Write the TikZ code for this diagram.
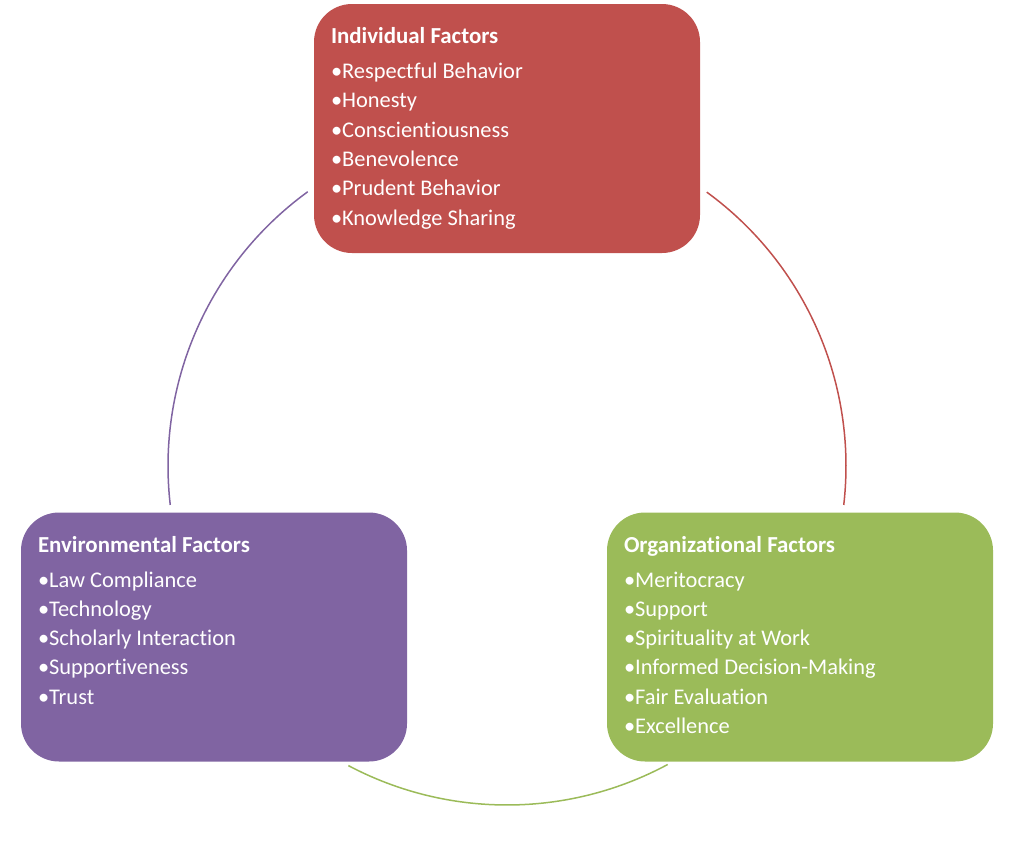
\documentclass[tikz,border=0pt]{standalone}
\usepackage{fontspec}
\setmainfont{Carlito}[RawFeature=-liga]
\usetikzlibrary{positioning}

\definecolor{indred}{HTML}{C0504D}
\definecolor{envpurple}{HTML}{8064A2}
\definecolor{orggreen}{HTML}{9BBB59}

% Box heading font
\newcommand{\factttl}[1]{{\fontsize{22.9}{29.3}\selectfont\bfseries #1}}

\begin{document}
\begin{tikzpicture}[
    x=1pt, y=-1pt,
    % Style definitions
    factor/.style={
        rectangle, rounded corners=38pt, draw=none,
        minimum width=386pt, minimum height=249pt, inner sep=0pt
    },
    factxt/.style={
        font=\fontsize{22.4}{29.3}\selectfont, text=white,
        align=left, inner sep=0pt, anchor=north west
    },
    cyclearc/.style={
        line width=1.5pt
    },
]

% Canvas
\useasboundingbox (0,0) rectangle (1014,854);

% Cycle centre and radius
\def\cycR{339}
\coordinate (c) at (507,466);

% === Factor boxes ===
\node[factor, fill=indred] (ind) at (507,128.5) {};
\node[factor, fill=envpurple] (env) at (214,637) {};
\node[factor, fill=orggreen] (org) at (800,637) {};

% === Box texts ===
\node[factxt, below right=23.5pt and 17pt of ind.north west] (indtxt) {%
    \factttl{Individual Factors}\\[5.7pt]
    •Respectful Behavior\\
    •Honesty\\
    •Conscientiousness\\
    •Benevolence\\
    •Prudent Behavior\\
    •Knowledge Sharing};
\node[factxt, below right=23.5pt and 17pt of env.north west] (envtxt) {%
    \factttl{Environmental Factors}\\[5.7pt]
    •Law Compliance\\
    •Technology\\
    •Scholarly Interaction\\
    •Supportiveness\\
    •Trust};
\node[factxt, below right=23.5pt and 17pt of org.north west] (orgtxt) {%
    \factttl{Organizational Factors}\\[5.7pt]
    •Meritocracy\\
    •Support\\
    •Spirituality at Work\\
    •Informed Decision-Making\\
    •Fair Evaluation\\
    •Excellence};

% === Cycle arcs between the boxes ===
\draw[cyclearc, indred] ([shift={(-53.9:\cycR)}]c)
    arc[start angle=-53.9, end angle=6.6, radius=\cycR];
\draw[cyclearc, orggreen] ([shift={(61.7:\cycR)}]c)
    arc[start angle=61.7, end angle=117.9, radius=\cycR];
\draw[cyclearc, envpurple] ([shift={(173.4:\cycR)}]c)
    arc[start angle=173.4, end angle=234, radius=\cycR];

\end{tikzpicture}
\end{document}
